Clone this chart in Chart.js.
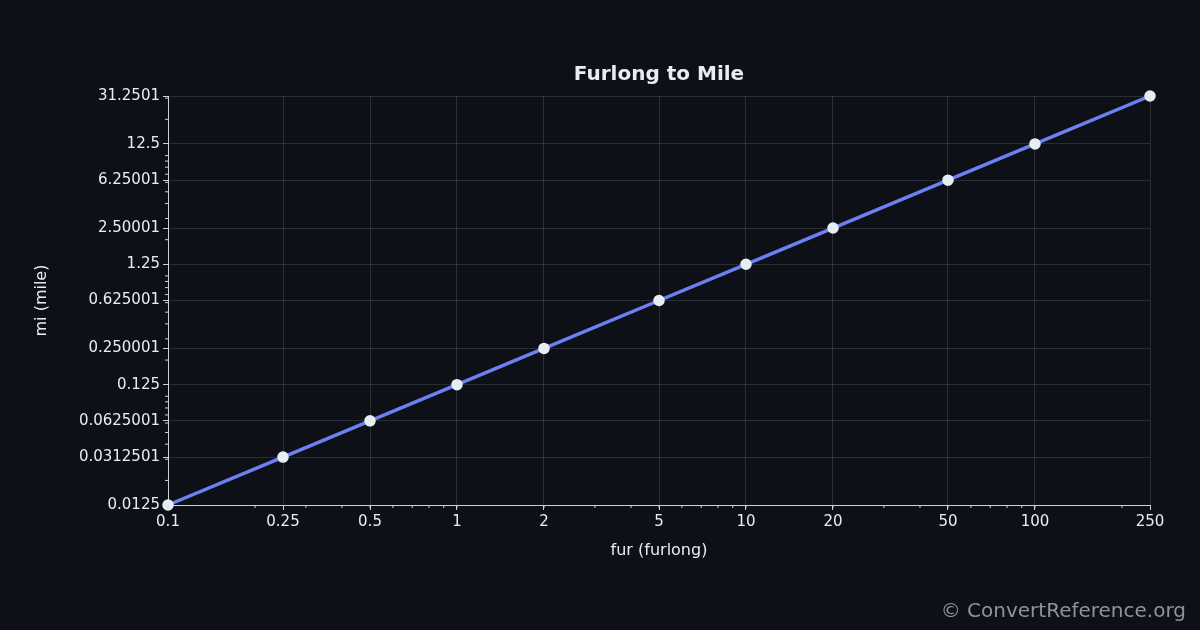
<!DOCTYPE html>
<html>
<head>
<meta charset="utf-8">
<script src="https://cdn.jsdelivr.net/npm/chart.js@4"></script>
<style>
html,body{margin:0;padding:0;background:#0d1117;}
#wrap{width:1200px;height:630px;position:relative;}
</style>
</head>
<body>
<div id="wrap"><canvas id="myChart" width="1200" height="630"></canvas></div>
<script>
var furlongs = [0.1, 0.25, 0.5, 1, 2, 5, 10, 20, 50, 100, 250];
var miles = [0.0125, 0.0312501, 0.0625001, 0.125, 0.250001, 0.625001, 1.25, 2.50001, 6.25001, 12.5, 31.2501];
var xTicks = [0.1, 0.25, 0.5, 1, 2, 5, 10, 20, 50, 100, 250];
var yTicks = [0.0125, 0.0312501, 0.0625001, 0.125, 0.250001, 0.625001, 1.25, 2.50001, 6.25001, 12.5, 31.2501];
var textColor = '#e6edf3';
var gridColor = 'rgba(139,148,158,0.22)';

// title centred over plot, minor log ticks, footer
var extras = {
    id: 'extras',
    afterDraw: function(chart) {
        var ctx = chart.ctx;
        var xs = chart.scales.x, ys = chart.scales.y;
        var area = chart.chartArea;
        ctx.save();
        ctx.strokeStyle = '#c9d1d9';
        ctx.lineWidth = 1;
        for (var d = -1; d <= 2; d++) {
            for (var m = 1; m <= 9; m++) {
                var v = m * Math.pow(10, d);
                if (v >= 0.1 && v <= 250) {
                    var px = xs.getPixelForValue(v);
                    ctx.beginPath(); ctx.moveTo(px, xs.top); ctx.lineTo(px, xs.top + 3); ctx.stroke();
                }
            }
        }
        for (var d2 = -2; d2 <= 1; d2++) {
            for (var m2 = 1; m2 <= 9; m2++) {
                var w = m2 * Math.pow(10, d2);
                if (w >= 0.0125 && w <= 31.2501) {
                    var py = ys.getPixelForValue(w);
                    ctx.beginPath(); ctx.moveTo(ys.right - 3, py); ctx.lineTo(ys.right, py); ctx.stroke();
                }
            }
        }
        ctx.fillStyle = textColor;
        ctx.font = 'bold 20px "DejaVu Sans"';
        ctx.textAlign = 'center';
        ctx.textBaseline = 'middle';
        ctx.fillText('Furlong to Mile', (area.left + area.right) / 2, 75);
        ctx.fillStyle = '#8b949e';
        ctx.font = '20px "DejaVu Sans"';
        ctx.textAlign = 'right';
        ctx.textBaseline = 'alphabetic';
        ctx.fillText('\u00a9 ConvertReference.org', 1186, 617);
        ctx.restore();
    }
};

var ctx = document.getElementById('myChart');
var myChart = new Chart(ctx, {
    type: 'line',
    data: {
        datasets: [{
            label: 'fur to mi',
            data: furlongs.map((v, i) => ({ x: v, y: miles[i] })),
            borderColor: '#6e7ff3',
            backgroundColor: '#e6edf3',
            pointBackgroundColor: '#e6edf3',
            pointBorderColor: '#e6edf3',
            pointRadius: 4,
            borderWidth: 3.5,
            clip: false
        }]
    },
    options: {
        responsive: false,
        animation: false,
        layout: { padding: { left: 32, right: 50, top: 96, bottom: 68 } },
        plugins: {
            legend: { display: false },
            tooltip: { enabled: false },
            title: { display: false }
        },
        scales: {
            x: {
                type: 'logarithmic',
                min: 0.1, max: 250,
                afterBuildTicks: function(s) { s.ticks = xTicks.map(v => ({ value: v })); },
                afterFit: function(s) { s.height = 57; },
                ticks: {
                    color: textColor, autoSkip: false, maxRotation: 0,
                    font: { family: 'DejaVu Sans', size: 15 },
                    callback: function(v) { return String(v); }
                },
                grid: { color: gridColor, tickColor: '#c9d1d9', tickLength: 5 },
                border: { color: '#c9d1d9' },
                title: { display: true, text: 'fur (furlong)', color: textColor, font: { family: 'DejaVu Sans', size: 16 }, padding: 2 }
            },
            y: {
                type: 'logarithmic',
                min: 0.0125, max: 31.2501,
                afterBuildTicks: function(s) { s.ticks = yTicks.map(v => ({ value: v })); },
                afterFit: function(s) { s.width = 136; },
                ticks: {
                    color: textColor, autoSkip: false,
                    font: { family: 'DejaVu Sans', size: 15 },
                    callback: function(v) { return String(v); }
                },
                grid: { color: gridColor, tickColor: '#c9d1d9', tickLength: 5 },
                border: { color: '#c9d1d9' },
                title: { display: true, text: 'mi (mile)', color: textColor, font: { family: 'DejaVu Sans', size: 16 }, padding: 0 }
            }
        }
    },
    plugins: [extras]
});
</script>
</body>
</html>
